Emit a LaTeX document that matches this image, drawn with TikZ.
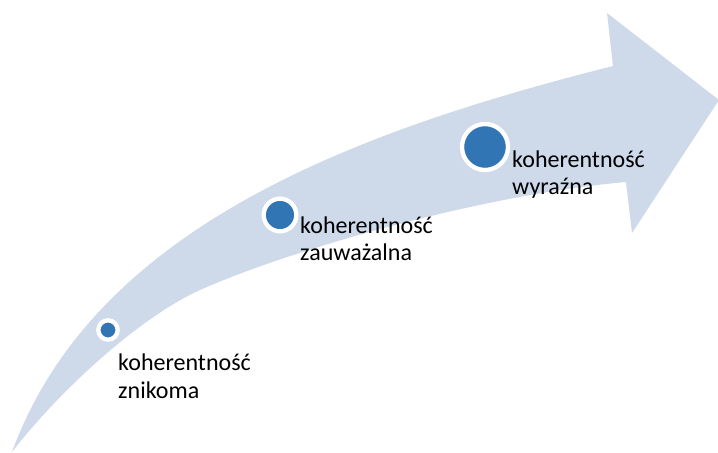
\documentclass[tikz,border=0pt]{standalone}
\usepackage{fontspec}
\setmainfont{Carlito}
\usepackage{tikz}
\usetikzlibrary{calc}
\definecolor{arrowfill}{RGB}{206,217,234}
\definecolor{dotblue}{RGB}{49,117,181}
\tikzset{dot/.style={circle, fill=dotblue, draw=white, line width=0.13cm, inner sep=0pt},
    lbl/.style={anchor=base west, align=left, inner sep=0pt, font=\fontsize{20.5pt}{23.5pt}\selectfont}}

\begin{document}
\begin{tikzpicture}[x=0.03cm, y=-0.03cm]
        \useasboundingbox (0,0) rectangle (718,453);
        \fill[arrowfill] (12,452) .. controls (95,225) and (360,130) .. (613,66)
            -- (607,13) -- (719,100) -- (632,233) -- (626,182)
            .. controls (480,195) and (290,250) .. (200,290)
            .. controls (140,317) and (60,390) .. (12,452) -- cycle;
        \node[dot, minimum size=0.58cm] (dotA) at (108,330) {};
        \node[dot, minimum size=0.98cm] (dotB) at (280,215) {};
        \node[dot, minimum size=1.38cm] (dotC) at (485,147) {};
        \node[lbl] (labA) at (118,398) {koherentność\\znikoma};
        \node[lbl] (labB) at (300,261) {koherentność\\zauważalna};
        \node[lbl] (labC) at (512,195) {koherentność\\wyraźna};
    \end{tikzpicture}
\end{document}
